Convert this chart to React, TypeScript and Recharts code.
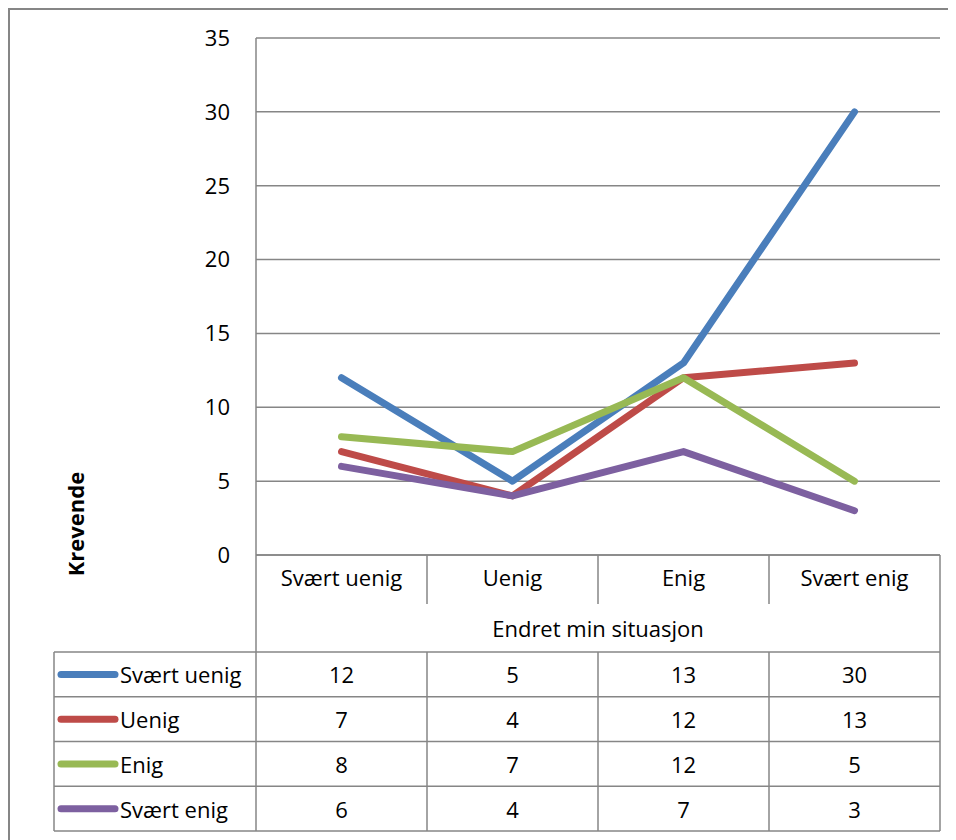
import React from "react";
import { LineChart, Line, XAxis, YAxis, CartesianGrid, Customized } from "recharts";

const categories = ["Svært uenig", "Uenig", "Enig", "Svært enig"];
const seriesNames = ["Svært uenig", "Uenig", "Enig", "Svært enig"];
const svaertUenig = [12, 5, 13, 30];
const uenig = [7, 4, 12, 13];
const enig = [8, 7, 12, 5];
const svaertEnig = [6, 4, 7, 3];
const yTicks = [0, 5, 10, 15, 20, 25, 30, 35];
const xTitle = "Endret min situasjon";
const yTitle = "Krevende";

const seriesValues = [svaertUenig, uenig, enig, svaertEnig];
const colors = ["#4A7EBB", "#BE4B48", "#98B954", "#7D60A0"];
const keys = ["s0", "s1", "s2", "s3"];

const data = categories.map((c, i) => {
  const row: Record<string, string | number> = { cat: c };
  seriesValues.forEach((vals, s) => (row[keys[s]] = vals[i]));
  return row;
});

const W = 946;
const H = 830;
const M = { top: 28, right: 16, left: 0, bottom: 236 };
const Y_W = 246;
const X_H = 49;
const FONT = "'Open Sans', sans-serif";
const FS = 22;
const GRID = "#868686";

const plotL = M.left + Y_W;
const plotR = W - M.right;
const plotB = H - M.bottom - X_H;
const catRowB = plotB + X_H;
const titleRowB = catRowB + 48;
const rowH = 44.75;
const legendL = 44;

function DataTable() {
  const colW = (plotR - plotL) / categories.length;
  const nRows = seriesNames.length;
  const tableB = titleRowB + rowH * nRows;
  const els: React.ReactNode[] = [];
  // category row dividers
  for (let i = 1; i < categories.length; i++) {
    const x = plotL + colW * i;
    els.push(<line key={"cd" + i} x1={x} x2={x} y1={plotB} y2={catRowB} stroke={GRID} strokeWidth={1.5} />);
  }
  els.push(<line key="lv" x1={plotL} x2={plotL} y1={plotB} y2={titleRowB} stroke={GRID} strokeWidth={1.5} />);
  els.push(<line key="rv" x1={plotR} x2={plotR} y1={plotB} y2={tableB} stroke={GRID} strokeWidth={1.5} />);
  els.push(
    <text key="xt" x={(plotL + plotR) / 2} y={(catRowB + titleRowB) / 2} textAnchor="middle" dominantBaseline="central"
      fontFamily={FONT} fontSize={FS} fill="#000">{xTitle}</text>
  );
  // data rows
  for (let r = 0; r <= nRows; r++) {
    const y = titleRowB + rowH * r;
    els.push(<line key={"h" + r} x1={legendL} x2={plotR} y1={y} y2={y} stroke={GRID} strokeWidth={1.5} />);
  }
  for (let i = 0; i < categories.length; i++) {
    const x = plotL + colW * i;
    els.push(<line key={"v" + i} x1={x} x2={x} y1={titleRowB} y2={tableB} stroke={GRID} strokeWidth={1.5} />);
  }
  els.push(<line key="vl" x1={legendL} x2={legendL} y1={titleRowB} y2={tableB} stroke={GRID} strokeWidth={1.5} />);
  seriesNames.forEach((name, r) => {
    const cy = titleRowB + rowH * r + rowH / 2;
    els.push(<line key={"lg" + r} x1={legendL + 7} x2={legendL + 61} y1={cy} y2={cy} stroke={colors[r]} strokeWidth={7} strokeLinecap="round" />);
    els.push(
      <text key={"ln" + r} x={legendL + 66} y={cy} dominantBaseline="central" fontFamily={FONT} fontSize={FS} fill="#000">{name}</text>
    );
    seriesValues[r].forEach((v, i) => {
      els.push(
        <text key={"val" + r + "-" + i} x={plotL + colW * (i + 0.5)} y={cy} textAnchor="middle" dominantBaseline="central"
          fontFamily={FONT} fontSize={FS} fill="#000">{v}</text>
      );
    });
  });
  els.push(
    <text key="yt" x={65} y={514} transform="rotate(-90 65 514)" textAnchor="middle" dominantBaseline="central"
      fontFamily={FONT} fontSize={FS} fontWeight="bold" fill="#000">{yTitle}</text>
  );
  return <g>{els}</g>;
}

export default function App() {
  return (
    <div style={{ width: 948, height: 832, borderLeft: "2px solid #868686", borderTop: "2px solid #868686", boxSizing: "border-box", background: "#fff" }}>
      <LineChart width={W} height={H} data={data} margin={M}>
        <CartesianGrid vertical={false} stroke={GRID} strokeWidth={1.5} />
        <XAxis dataKey="cat" scale="band" height={X_H} axisLine={{ stroke: GRID, strokeWidth: 1.5 }} tickLine={false}
          tick={{ fontSize: FS, fill: "#000", fontFamily: FONT }} tickMargin={9} interval={0} />
        <YAxis width={Y_W} domain={[0, 35]} ticks={yTicks} interval={0} axisLine={{ stroke: GRID, strokeWidth: 1.5 }}
          tickLine={false} tickSize={0} tickMargin={26} tick={{ fontSize: FS, fill: "#000", fontFamily: FONT }} />
        {keys.map((k, s) => (
          <Line key={k} dataKey={k} name={seriesNames[s]} stroke={colors[s]} strokeWidth={7} dot={false}
            strokeLinecap="round" strokeLinejoin="round" isAnimationActive={false} type="linear" />
        ))}
        <Customized component={DataTable} />
      </LineChart>
    </div>
  );
}
